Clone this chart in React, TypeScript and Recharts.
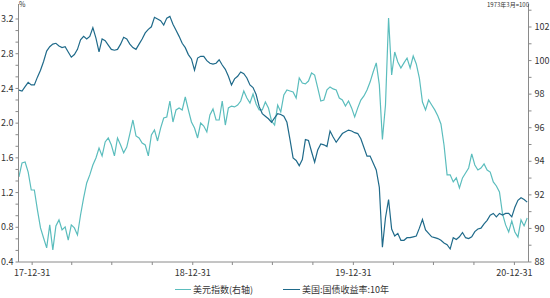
import { Line, LineChart, XAxis, YAxis } from "recharts";

// weekly readings, first week 2017-12-01
const startDate = Date.UTC(2017, 11, 1);
const DAY = 24 * 3600 * 1000;

// 美元指数 (right axis)
const dollarIndex = [
  93.07, 93.9, 93.96, 93.36, 92.29, 92.29, 91.1, 90.03, 89.43, 88.84,
  90.21, 88.72, 90.15, 90.51, 89.91, 90.09, 89.31, 90.21, 90.03, 89.61,
  90.8, 91.82, 92.71, 93.19, 93.78, 94.2, 94.79, 94.32, 95.15, 95.39,
  94.97, 94.32, 95.39, 94.97, 94.5, 94.85, 95.63, 96.46, 95.51, 95.39,
  95.09, 94.97, 94.32, 95.57, 95.87, 95.21, 95.98, 96.58, 96.64, 97.59,
  96.34, 97.06, 97.18, 97.06, 97.83, 97.06, 96.34, 95.98, 95.39, 96.28,
  96.1, 95.75, 96.76, 97.12, 96.46, 96.46, 97.59, 96.16, 97.18, 97.29,
  97.24, 97.35, 97.59, 98.19, 97.77, 97.47, 98.01, 97.41, 97.06, 97.06,
  97.53, 97.18, 96.4, 96.16, 97.35, 96.94, 97.95, 98.25, 98.19, 98.13,
  97.77, 98.96, 98.66, 98.61, 98.78, 99.26, 99.14, 98.37, 97.59, 97.65,
  98.25, 98.43, 98.31, 98.25, 97.77, 97.65, 97.29, 97.59, 97.18, 96.64,
  97.18, 97.65, 97.89, 98.25, 98.72, 99.32, 99.86, 98.55, 95.3, 97.35,
  102.54, 99.14, 100.51, 99.92, 99.56, 99.86, 100.15, 99.56, 100.27, 99.8,
  98.96, 97.53, 97.06, 97.65, 97.35, 97.06, 96.7, 96.22, 94.97, 93.19,
  93.19, 92.77, 93.01, 92.41, 93.01, 93.3, 93.6, 94.44, 93.78, 93.48,
  93.6, 93.84, 93.48, 93.36, 92.77, 92.53, 92.17, 90.86, 90.21, 89.79,
  90.45, 89.79, 89.49, 90.51, 90.15, 90.62,
];

// 美国:国债收益率:10年 (left axis, %)
const treasury10y = [
  2.38, 2.37, 2.42, 2.47, 2.44, 2.44, 2.53, 2.61, 2.71, 2.83,
  2.88, 2.91, 2.92, 2.89, 2.87, 2.88, 2.82, 2.76, 2.79, 2.85,
  2.96, 3.0, 2.97, 3.0, 3.1, 2.98, 2.82, 2.97, 2.95, 2.9,
  2.85, 2.84, 2.85, 2.91, 2.99, 2.97, 2.91, 2.87, 2.85, 2.91,
  2.97, 3.04, 3.08, 3.11, 3.22, 3.2, 3.18, 3.13, 3.21, 3.23,
  3.14, 3.07, 3.0, 2.92, 2.87, 2.79, 2.74, 2.61, 2.75, 2.77,
  2.77, 2.72, 2.69, 2.68, 2.69, 2.73, 2.67, 2.62, 2.54, 2.44,
  2.51, 2.54, 2.59, 2.57, 2.52, 2.44, 2.41, 2.33, 2.19, 2.11,
  2.08, 2.05, 2.01, 2.06, 2.11, 2.1, 2.08, 2.01, 1.81, 1.6,
  1.57, 1.51, 1.58, 1.81, 1.8, 1.67, 1.55, 1.69, 1.76, 1.75,
  1.73, 1.91, 1.84, 1.78, 1.83, 1.88, 1.9, 1.92, 1.91, 1.89,
  1.88, 1.82, 1.72, 1.62, 1.62, 1.54, 1.46, 1.26, 0.57, 0.91,
  1.12, 0.78, 0.7, 0.73, 0.65, 0.65, 0.68, 0.68, 0.69, 0.7,
  0.79, 0.89, 0.77, 0.73, 0.69, 0.68, 0.67, 0.65, 0.62, 0.6,
  0.55, 0.68, 0.66, 0.69, 0.74, 0.68, 0.67, 0.69, 0.75, 0.78,
  0.79, 0.84, 0.88, 0.94, 0.96, 0.92, 0.96, 0.94, 0.96, 0.96,
  0.92, 1.03, 1.11, 1.14, 1.12, 1.09,
];

const yearEnds = ["17-12-31", "18-12-31", "19-12-31", "20-12-31"];
const quarterEnds = [
  [2017, 11, 31], [2018, 2, 31], [2018, 5, 30], [2018, 8, 30],
  [2018, 11, 31], [2019, 2, 31], [2019, 5, 30], [2019, 8, 30],
  [2019, 11, 31], [2020, 2, 31], [2020, 5, 30], [2020, 8, 30],
  [2020, 11, 31],
];
const leftMajor = [0.4, 0.8, 1.2, 1.6, 2.0, 2.4, 2.8, 3.2];
const rightMajor = [88, 90, 92, 94, 96, 98, 100, 102];

const data = dollarIndex.map((v, i) => ({
  t: startDate + i * 7 * DAY,
  dollar: v,
  yield10: treasury10y[i],
}));

const xTicks = quarterEnds.map(([y, m, d]) => Date.UTC(y, m, d));
const fmtX = (t: number) => {
  const d = new Date(t);
  if (d.getUTCMonth() !== 11) return "";
  return yearEnds[d.getUTCFullYear() - 2017] ?? "";
};

// left axis: two minor ticks between majors; right axis: one
const leftTicks: number[] = [];
leftMajor.forEach((v, i) => {
  leftTicks.push(v);
  if (i < leftMajor.length - 1) leftTicks.push(v + 0.4 / 3, v + 0.8 / 3);
});
const rightTicks: number[] = [];
rightMajor.forEach((v) => rightTicks.push(v, v + 1));

const fmtLeft = (v: number) =>
  leftMajor.some((m) => Math.abs(m - v) < 1e-6) ? v.toFixed(1) : "";
const fmtRight = (v: number) => (rightMajor.includes(v) ? String(v) : "");

const CYAN = "#5bbdbd";
const DARK = "#1f6a8a";
const AXIS = "#8a8a8a";
const FONT = "'Noto Sans CJK SC', 'Noto Sans', sans-serif";
const tickStyle = { fontSize: 9, fill: "#333", fontFamily: FONT };

export default function App() {
  return (
    <div style={{ position: "absolute", left: 0, top: 0, width: 550, height: 298, background: "#fff", fontFamily: FONT }}>
      <LineChart width={550} height={298} data={data} margin={{ top: 4, right: 0, bottom: 0, left: 0 }}>
        <XAxis
          dataKey="t"
          type="number"
          domain={[Date.UTC(2017, 10, 30), Date.UTC(2021, 1, 1)]}
          ticks={xTicks}
          interval={0}
          tickFormatter={fmtX}
          height={36}
          tickSize={3}
          tickMargin={5}
          stroke={AXIS}
          tick={tickStyle}
          allowDataOverflow
        />
        <YAxis
          yAxisId="left"
          orientation="left"
          width={18.5}
          domain={[0.4, 3.3728]}
          ticks={leftTicks}
          interval={0}
          tickFormatter={fmtLeft}
          tickSize={3}
          tickMargin={2}
          stroke={AXIS}
          tick={tickStyle}
          allowDataOverflow
        />
        <YAxis
          yAxisId="right"
          orientation="right"
          width={21.5}
          domain={[88, 103.37]}
          ticks={rightTicks}
          interval={0}
          tickFormatter={fmtRight}
          tickSize={3}
          tickMargin={3}
          stroke={AXIS}
          tick={tickStyle}
          allowDataOverflow
        />
        <Line yAxisId="right" dataKey="dollar" stroke={CYAN} strokeWidth={1.2} dot={false} type="linear" isAnimationActive={false} />
        <Line yAxisId="left" dataKey="yield10" stroke={DARK} strokeWidth={1.2} dot={false} type="linear" isAnimationActive={false} />
      </LineChart>
      <div style={{ position: "absolute", left: 19, top: -1, fontSize: 7, color: "#333" }}>%</div>
      <div style={{ position: "absolute", right: 21, top: 0, fontSize: 6, color: "#333", whiteSpace: "nowrap" }}>1973年3月=100</div>
      <div style={{ position: "absolute", left: 175, top: 283, fontSize: 9, color: "#333", display: "flex", alignItems: "center", whiteSpace: "nowrap" }}>
        <span style={{ display: "inline-block", width: 16, height: 1.5, background: CYAN, marginRight: 2 }} />
        <span>美元指数(右轴)</span>
        <span style={{ display: "inline-block", width: 17, height: 1.5, background: DARK, marginLeft: 30, marginRight: 2 }} />
        <span>美国:国债收益率:10年</span>
      </div>
    </div>
  );
}
